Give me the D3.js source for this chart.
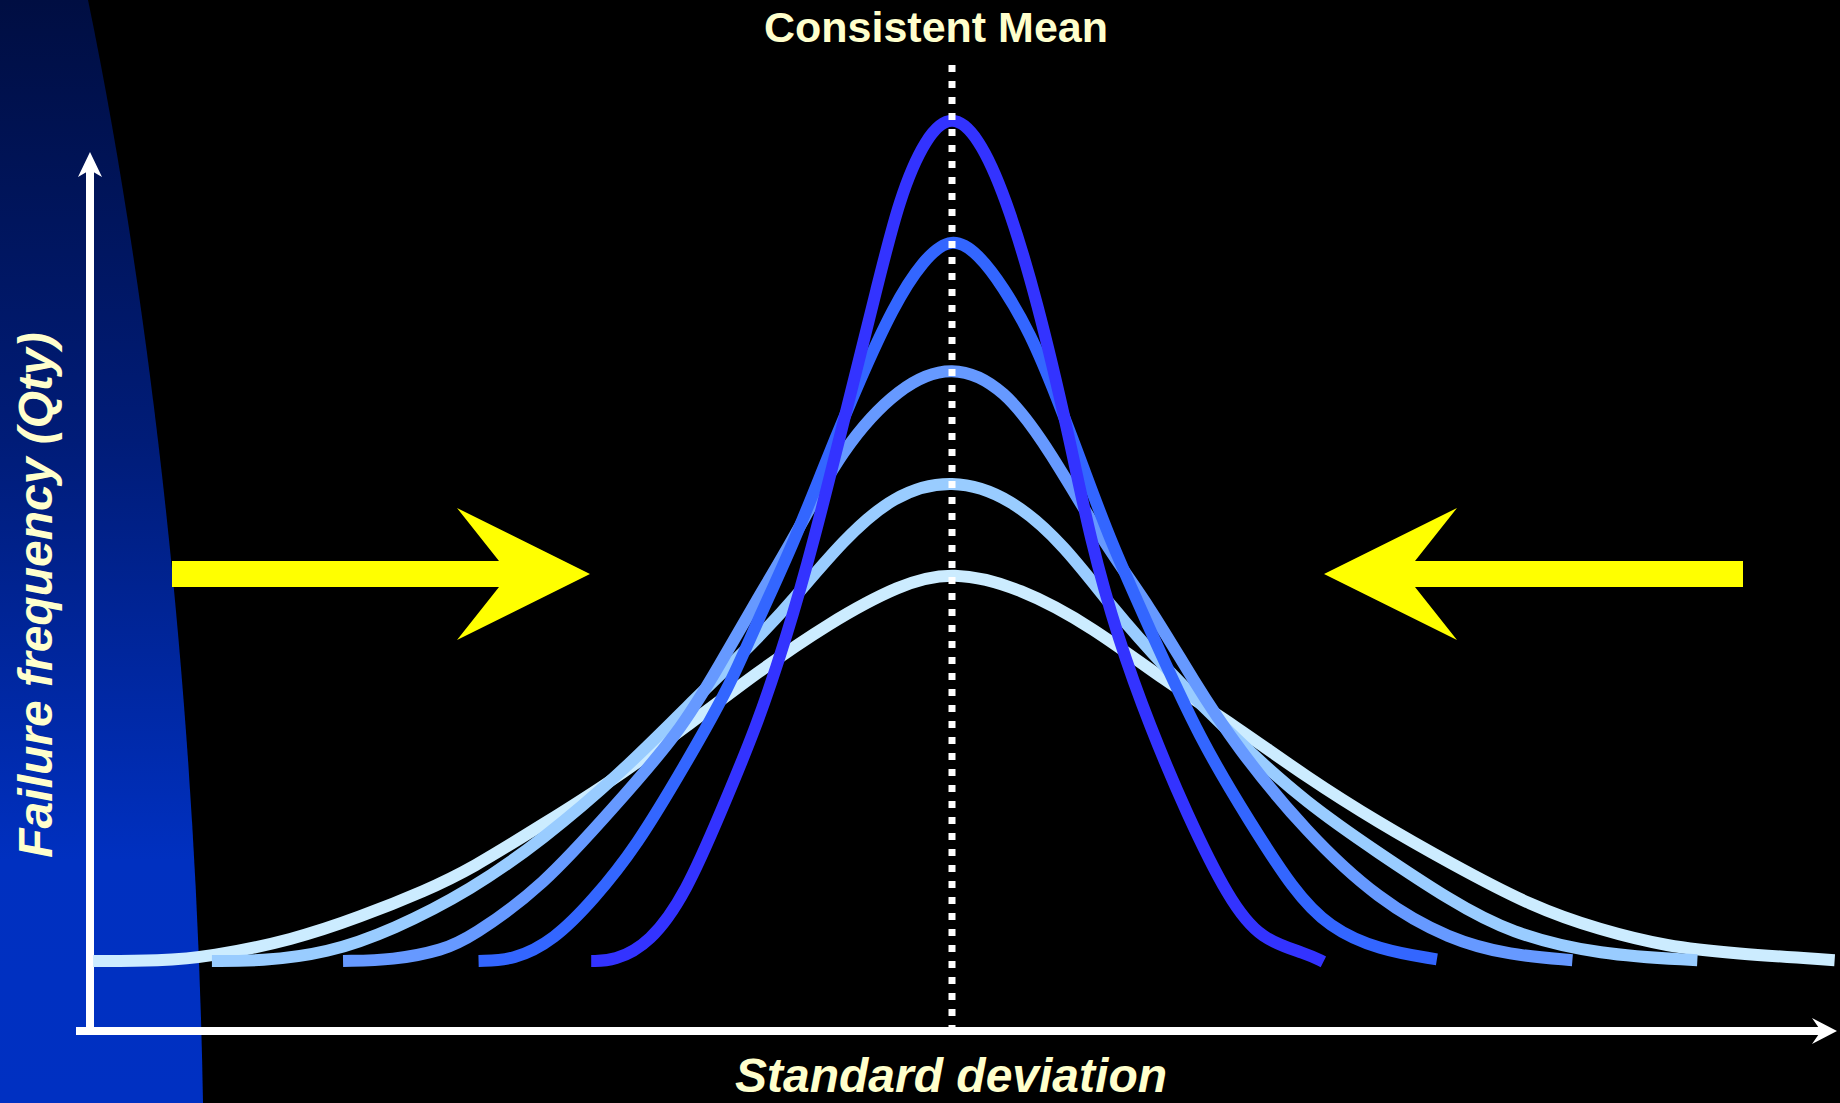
<!DOCTYPE html>
<html>
<head>
<meta charset="utf-8">
<script src="https://cdn.jsdelivr.net/npm/d3@7"></script>
<style>
  html, body { margin: 0; padding: 0; background: #000; }
  svg { display: block; }
</style>
</head>
<body>
<svg id="chart" width="1840" height="1103"></svg>
<script>
// ---------- DATA (x in deviation units around the mean, y = relative frequency) ----------
const seriesNames = ["Widest", "Wide", "Medium", "Narrow", "Narrowest"];
const seriesColors = ["#CCECFF", "#99CCFF", "#6699FF", "#3366FF", "#3333FF"];

const curve5X = [-9.76,-9.00,-8.43,-7.49,-6.73,-5.97,-5.47,-4.65,-3.84,-3.02,-2.22,-1.40,-0.59,0,0.78,1.60,2.41,3.23,4.03,4.85,5.66,6.60,7.36,8.13,8.88,10.03];
const curve5Y = [0,0,0.5,2.5,5.2,8.4,10.9,16.2,21.5,27.8,34.2,40.1,44.7,46.3,44.3,39.6,33.3,27.8,21.8,16.4,11.6,6.4,3.7,1.7,0.9,0.1];

const curve4X = [-8.41,-7.86,-7.10,-6.35,-5.47,-4.65,-3.76,-3.02,-2.22,-1.81,-1.24,-0.67,0,0.67,1.28,1.81,2.41,3.23,4.03,4.85,5.66,6.34,7.36,8.47];
const curve4Y = [0,0,0.9,3.7,8.4,14.4,22.3,30.1,38.1,42.8,49.9,55.3,57.3,55.0,49.3,42.0,34.9,26.2,18.7,12.8,7.2,3.3,0.7,0.1];

const curve3X = [-6.92,-6.35,-5.78,-5.47,-4.65,-3.84,-3.10,-2.63,-2.22,-1.81,-1.24,-0.60,0,0.60,1.11,1.74,2.25,2.74,3.23,4.03,4.85,5.66,6.34,7.05];
const curve3Y = [0,0.1,1.3,2.8,8.8,18.3,27.0,35.3,42.8,49.9,61.0,68.2,70.9,68.0,60.6,49.3,42.0,33.3,25.4,15.2,7.2,2.5,0.7,0.1];

const curve2X = [-5.38,-4.98,-4.52,-4.08,-3.59,-3.02,-2.53,-2.22,-1.81,-1.42,-1.05,-0.67,-0.33,0,0.30,0.58,0.89,1.19,1.49,1.80,2.25,2.82,3.39,3.88,4.28,4.85,5.51];
const curve2Y = [0,0.1,2.5,7.2,13.5,23.5,32.5,40.1,49.3,59.6,68.9,77.6,83.2,86.0,83.9,80.0,74.5,66.9,58.6,49.8,39.3,26.2,16.4,8.4,4.0,1.3,0.2];

const curve1X = [-4.10,-3.84,-3.43,-3.02,-2.63,-2.22,-1.89,-1.58,-1.16,-0.85,-0.60,-0.30,0,0.30,0.60,0.97,1.34,1.57,1.89,2.25,2.66,3.15,3.51,4.03,4.22];
const curve1Y = [0,0,2.1,8.1,17.6,27.8,38.1,49.3,67.0,80.0,90.5,97.8,100.6,97.8,91.0,78.4,61.8,50.0,38.1,27.8,17.6,7.2,2.5,0.9,-0.1];

const meanValue = 0;
const titleText = "Consistent Mean";
const xLabel = "Standard deviation";
const yLabel = "Failure frequency (Qty)";

// ---------- LAYOUT ----------
const W = 1840, H = 1103;
const svg = d3.select("#chart");
const x = d3.scaleLinear().domain([-10, 10]).range([72, 1832]);
const y = d3.scaleLinear().domain([0, 100]).range([961, 118]);

const textColor = "#FFFFCC";
const font = "'Liberation Sans', Arial, Helvetica, sans-serif";

// background
svg.append("rect").attr("width", W).attr("height", H).attr("fill", "#000");

const defs = svg.append("defs");
const grad = defs.append("linearGradient").attr("id", "sideGrad")
  .attr("x1", 0).attr("y1", 0).attr("x2", 0).attr("y2", 1);
grad.append("stop").attr("offset", "0%").attr("stop-color", "#000E42");
grad.append("stop").attr("offset", "40%").attr("stop-color", "#001C78");
grad.append("stop").attr("offset", "78%").attr("stop-color", "#0030C0");
grad.append("stop").attr("offset", "100%").attr("stop-color", "#0030C2");

svg.append("path")
  .attr("d", "M0,0 L88,0 C148,290 196,690 203,1103 L0,1103 Z")
  .attr("fill", "url(#sideGrad)");

// axes
const axisY = 1031, axisX = 90;
const g = svg.append("g");
g.append("line").attr("x1", 76).attr("x2", 1822).attr("y1", axisY).attr("y2", axisY)
  .attr("stroke", "#fff").attr("stroke-width", 8);
g.append("path").attr("d", `M1837,${axisY} L1812,${axisY-13} L1821,${axisY} L1812,${axisY+13} Z`).attr("fill", "#fff");
g.append("line").attr("x1", axisX).attr("x2", axisX).attr("y1", 1035).attr("y2", 168)
  .attr("stroke", "#fff").attr("stroke-width", 8);
g.append("path").attr("d", `M${axisX},152 L${axisX+12},177 L${axisX},170 L${axisX-12},177 Z`).attr("fill", "#fff");

// yellow arrows
const arrowY = 574;
function arrowPath(tail, tip, dir) {
  const headLen = 133, notch = 91, halfShaft = 13, halfHead = 66;
  const back = tip - dir * headLen, neck = tip - dir * notch;
  return `M${tail},${arrowY - halfShaft} L${neck},${arrowY - halfShaft} L${back},${arrowY - halfHead} ` +
         `L${tip},${arrowY} L${back},${arrowY + halfHead} L${neck},${arrowY + halfShaft} L${tail},${arrowY + halfShaft} Z`;
}
svg.append("path").attr("d", arrowPath(172, 590, 1)).attr("fill", "#FFFF00");
svg.append("path").attr("d", arrowPath(1743, 1324, -1)).attr("fill", "#FFFF00");

// curves
const allX = [curve5X, curve4X, curve3X, curve2X, curve1X];
const allY = [curve5Y, curve4Y, curve3Y, curve2Y, curve1Y];
const series = seriesNames.map((name, i) => ({
  name, color: seriesColors[i],
  points: allX[i].map((v, j) => [v, allY[i][j]])
}));
const line = d3.line().x(d => x(d[0])).y(d => y(d[1])).curve(d3.curveBasis);
svg.append("g").selectAll("path").data(series).join("path")
  .attr("d", d => line(d.points))
  .attr("fill", "none")
  .attr("stroke", d => d.color)
  .attr("stroke-width", 12)
  .attr("stroke-linecap", "butt");

// dotted mean line
svg.append("line")
  .attr("x1", x(meanValue)).attr("x2", x(meanValue))
  .attr("y1", 65).attr("y2", 1030)
  .attr("stroke", "#fff").attr("stroke-width", 7)
  .attr("stroke-dasharray", "7 9");

// texts
svg.append("text").text(titleText)
  .attr("x", 936).attr("y", 42).attr("text-anchor", "middle")
  .attr("font-family", font).attr("font-weight", "bold").attr("font-size", 43)
  .attr("fill", textColor);

svg.append("text").text(xLabel)
  .attr("x", 951).attr("y", 1092).attr("text-anchor", "middle")
  .attr("font-family", font).attr("font-weight", "bold").attr("font-style", "italic")
  .attr("font-size", 48).attr("fill", textColor);

svg.append("text").text(yLabel)
  .attr("transform", "translate(52,595) rotate(-90)")
  .attr("text-anchor", "middle")
  .attr("font-family", font).attr("font-weight", "bold").attr("font-style", "italic")
  .attr("font-size", 48).attr("fill", textColor);
</script>
</body>
</html>
